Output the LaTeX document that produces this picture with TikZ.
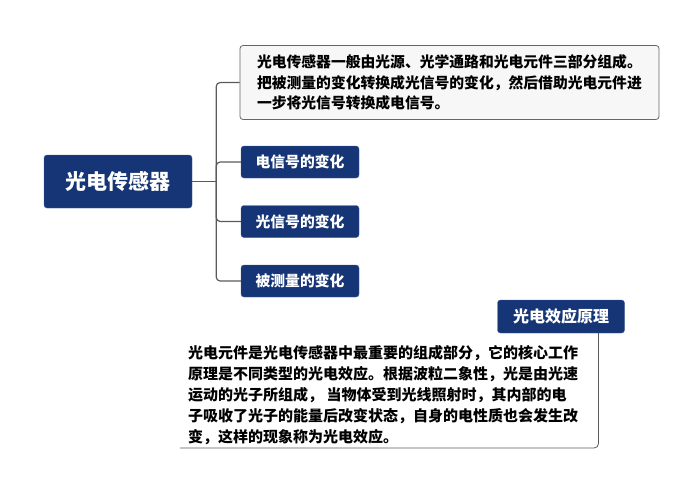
\documentclass[tikz,border=0pt]{standalone}
\usepackage{xcolor}
\usepackage{fontspec}
\usepackage{tikz}
\newfontfamily\cjk{Noto Sans CJK SC}
\definecolor{navy}{RGB}{22,53,118}
\definecolor{linegray}{RGB}{90,90,90}
\usetikzlibrary{arrows.meta}
\tikzset{>=stealth}
\tikzset{
  headbox/.style={fill=navy, draw=navy!80, rounded corners=3pt, text=white,
    font=\cjk\bfseries\fontsize{14.8}{17}\selectfont, minimum width=118pt, minimum height=32pt, inner sep=0pt},
  notebox/.style={fill=black!3, draw=black!60, rounded corners=3pt, line width=0.8pt, align=left,
    font=\cjk\bfseries\fontsize{14.8}{20.5}\selectfont, text width=385pt, inner xsep=17pt, inner ysep=0pt, minimum height=74pt},
  branch/.style={draw=linegray, line width=1.2pt, rounded corners=4pt}
}

\begin{document}
\begin{tikzpicture}[x=1pt,y=-1pt]
        \useasboundingbox (0,0) rectangle (700,480);
        \node[headbox, minimum width=148pt, minimum height=53pt, font=\cjk\bfseries\fontsize{21}{24}\selectfont] (sensor) at (118,181.5) {光电传感器};
        \node[notebox] (summary) at (449.5,82.5) {光电传感器一般由光源、光学通路和光电元件三部分组成。\\把被测量的变化转换成光信号的变化，然后借助光电元件进\\一步将光信号转换成电信号。};
        \node[headbox] (electric) at (300,162) {电信号的变化};
        \node[headbox] (optical) at (300,221.5) {光信号的变化};
        \node[headbox] (measured) at (300,281) {被测量的变化};
        \node[headbox, minimum width=127pt, minimum height=33pt, font=\cjk\bfseries\fontsize{16}{19}\selectfont] (principle) at (561,316.5) {光电效应原理};
        \node[anchor=north west, inner sep=0pt, font=\cjk\bfseries\fontsize{15}{21}\selectfont] (effect) at (180,333)
          {\begin{minipage}[c][114.5pt][t]{418pt}\leftskip=8pt\parindent=0pt\vspace*{12pt}光电元件是光电传感器中最重要的组成部分，它的核心工作\\原理是不同类型的光电效应。根据波粒二象性，光是由光速\\运动的光子所组成， 当物体受到光线照射时，其内部的电\\子吸收了光子的能量后改变状态，自身的电性质也会发生改\\变，这样的现象称为光电效应。\end{minipage}};
        \draw[draw=linegray, line width=0.8pt, rounded corners=4pt] (effect.south west) -- (effect.south east) -- (effect.north east);
        \draw[branch] (sensor.east) -- ++(24,0) coordinate (fork);
        \draw[branch] (fork) |- (summary.west);
        \foreach \leaf in {electric,optical,measured}
          \draw[branch] (fork) |- (\leaf.west);
      \end{tikzpicture}
\end{document}
